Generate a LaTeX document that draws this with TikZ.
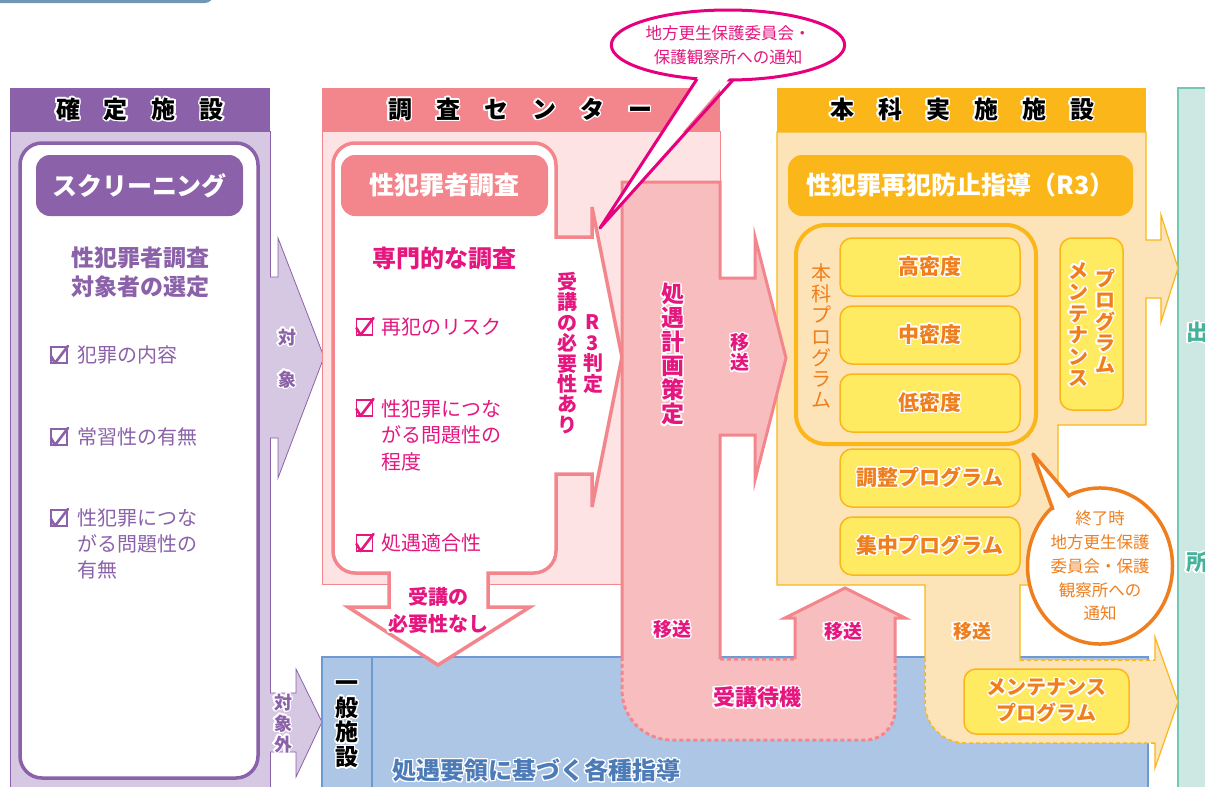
\documentclass[tikz,border=0pt]{standalone}
\usepackage{fontspec}
\setmainfont{Noto Sans CJK JP}
\usepackage[copies]{contour}
\contourlength{1.4pt}
\contournumber{20}
\usetikzlibrary{shapes.geometric}

\definecolor{tabc}{HTML}{7196B5}
\definecolor{purpD}{HTML}{8B62A9}
\definecolor{purpL}{HTML}{D6C7E3}
\definecolor{pinkD}{HTML}{F3868C}
\definecolor{pinkL}{HTML}{FDE3E3}
\definecolor{pinkM}{HTML}{F8BDBE}
\definecolor{magT}{HTML}{E5177F}
\definecolor{magL}{HTML}{E6007E}
\definecolor{goldH}{HTML}{FBB719}
\definecolor{peach}{HTML}{FDE4B8}
\definecolor{yelF}{HTML}{FFEB62}
\definecolor{orT}{HTML}{EF7F1E}
\definecolor{blueF}{HTML}{ADC6E6}
\definecolor{blueB}{HTML}{6E9AD1}
\definecolor{blueT}{HTML}{4C7BB7}
\definecolor{tealF}{HTML}{CDE8E2}
\definecolor{tealB}{HTML}{73C8B5}
\definecolor{tealT}{HTML}{45B29B}

\newcommand\ow[1]{\contour{white}{#1}}
\newcommand\idf[1]{#1}
\makeatletter
\def\vt#1#2{\vt@a#1#2\relax}
\def\vt@a#1#2{#1{#2}\vt@b#1}
\def\vt@b#1#2{\ifx#2\relax\expandafter\@gobble\else\expandafter\@firstofone\fi{\\#1{#2}\vt@b#1}}
\makeatother

\newcommand\chkbox[3]{%
  \draw[#1, line width=1.3] (#2-8,#3-8) rectangle (#2+8,#3+8);
  \draw[#1, line width=2.6, line cap=round, line join=round] (#2-8,#3+1) -- (#2-4,#3+8) -- (#2+9,#3-9);
}

\tikzset{
  every node/.style={inner sep=0pt, outer sep=0pt},
  hdr/.style={text=black, font=\fontsize{24}{26}\selectfont\bfseries},
  ybox/.style={fill=yelF, draw=goldH, line width=1.5, rounded corners=12, minimum width=180, minimum height=58, text=orT, font=\fontsize{21}{24}\selectfont\bfseries, align=center},
  chkp/.style={text=purpD, font=\fontsize{20}{26}\selectfont, anchor=west, align=left},
  chkm/.style={text=magT, font=\fontsize{20}{26.5}\selectfont, anchor=west, align=left},
  magb/.style={text=magT, font=\fontsize{20}{21}\selectfont\bfseries, align=center},
  orb/.style={text=orT, font=\fontsize{20}{21.5}\selectfont\bfseries, align=center},
  dsh/.style={dash pattern=on 4pt off 3pt},
}

\begin{document}
\begin{tikzpicture}[x=1pt,y=-1pt]
\useasboundingbox (0,0) rectangle (1205,787);
\clip (0,0) rectangle (1205,787);

% top tab
\fill[tabc, rounded corners=8] (-20,-20) rectangle (213,3);

% ---------- column 1 ----------
\filldraw[fill=purpL, draw=purpD, line width=0.8] (10,131) rectangle (270,800);
\fill[purpD] (10,88) rectangle (270,131);
\fill[purpL] (268,277) -- (278,277) -- (278,238) -- (324,357) -- (278,478) -- (278,438) -- (268,438) -- cycle;
\draw[purpD, line width=0.8] (270,277) -- (278,277) -- (278,238) -- (324,357) -- (278,478) -- (278,438) -- (270,438);
\fill[purpL] (268,693) -- (296,693) -- (296,669) -- (322,722) -- (296,777) -- (296,752) -- (268,752) -- cycle;
\draw[purpD, line width=0.8] (270,693) -- (296,693) -- (296,669) -- (322,722) -- (296,777) -- (296,752) -- (270,752);
\filldraw[fill=white, draw=purpD, line width=3.5, rounded corners=22] (20,143) rectangle (258,778);

% ---------- column 2 ----------
\filldraw[fill=pinkL, draw=pinkD, line width=0.8] (322,131) rectangle (720,584);
\fill[pinkD] (322,88) rectangle (720,131);

% ---------- general facility (blue) ----------
\filldraw[fill=blueF, draw=blueB, line width=1.2] (322,657) rectangle (1148,800);
\draw[blueB, line width=1.2] (372,657) -- (372,800);

% ---------- column 4 ----------
\filldraw[fill=tealF, draw=tealB, line width=1.5] (1178,88) rectangle (1230,800);

% ---------- column 3 ----------
\fill[peach] (777,132) -- (1146,132) -- (1146,240) -- (1161,240) -- (1161,215) -- (1178,268) -- (1161,322) -- (1161,298) -- (1146,298) -- (1146,425) -- (1058,425) -- (1058,585) -- (1020,585) -- (1020,660) -- (1155,660) -- (1155,637) -- (1178,702) -- (1155,768) -- (1155,743) -- (965,743) .. controls (943,743) and (925,725) .. (925,703) -- (925,585) -- (777,585) -- cycle;
\draw[goldH, line width=1.2] (925,660) -- (925,585) -- (777,585) -- (777,132) -- (1146,132) -- (1146,240) -- (1161,240) -- (1161,215) -- (1178,268) -- (1161,322) -- (1161,298) -- (1146,298) -- (1146,425) -- (1058,425) -- (1058,585) -- (1020,585) -- (1020,660);
\draw[goldH, line width=1.2] (1155,660) -- (1155,637) -- (1178,702) -- (1155,768) -- (1155,743);
\draw[goldH, line width=1.5, dsh] (1020,660) -- (1155,660) (1155,743) -- (965,743) .. controls (943,743) and (925,725) .. (925,703) -- (925,660);
\fill[goldH] (777,88) rectangle (1146,132);

% ---------- survey panel ----------
\filldraw[fill=white, draw=pinkD, line width=3.5] (333,551) -- (333,165) .. controls (333,153) and (343,143) .. (355,143) -- (534,143) .. controls (546,143) and (556,153) .. (556,165) -- (556,237) -- (592,237) -- (592,207) -- (622,357) -- (592,507) -- (592,474) -- (556,474) -- (556,551) .. controls (556,563) and (546,573) .. (534,573) -- (488,573) -- (488,607) -- (530,607) -- (438,665) -- (348,607) -- (389,607) -- (389,573) -- (355,573) .. controls (343,573) and (333,563) .. (333,551) -- cycle;

% ---------- central block ----------
\fill[pinkM] (622,182) -- (720,182) -- (720,278) -- (755,278) -- (755,237) -- (786,358) -- (755,480) -- (755,435) -- (720,435) -- (720,659) -- (795,659) -- (795,618) -- (785,618) -- (845,588) -- (905,618) -- (895,618) -- (895,710) .. controls (895,727) and (882,740) .. (865,740) -- (672,740) .. controls (644,740) and (622,718) .. (622,690) -- cycle;
\draw[pinkD, line width=3] (622,659) -- (622,182) -- (720,182) -- (720,278) -- (755,278) -- (755,237) -- (786,358) -- (755,480) -- (755,435) -- (720,435) -- (720,659);
\draw[pinkD, line width=3] (795,659) -- (795,618) -- (785,618) -- (845,588) -- (905,618) -- (895,618) -- (895,659);
\draw[pinkD, line width=3, dsh] (720,659) -- (795,659) (895,659) -- (895,710) .. controls (895,727) and (882,740) .. (865,740) -- (672,740) .. controls (644,740) and (622,718) .. (622,690) -- (622,659);

% ---------- top callout ----------
\node[ellipse, draw=magL, line width=3, fill=white, minimum width=230, minimum height=70, text=magT, font=\fontsize{16.5}{24}\selectfont, align=center] (note1) at (728,45) {地方更生保護委員会・\\保護観察所への通知};
\fill[white] (700,74) -- (600,228) -- (732,75) -- cycle;
\draw[magL, line width=3, line join=round] (697,79) -- (600,228) -- (733,80);

% ---------- column 3 inner ----------
\node[fill=goldH, rounded corners=14, minimum width=345, minimum height=61, text=white, font=\fontsize{25}{27}\selectfont\bfseries] (r3) at (960.5,185.5) {性犯罪再犯防止指導（R3）};
\draw[goldH, line width=4, rounded corners=30] (796,225) rectangle (1036,444);
\node[text=orT, font=\fontsize{20}{21.3}\selectfont, align=center] (honka) at (821,336) {\vt\idf{本科プログラム}};
\node[ybox] (hi) at (930,267) {\ow{高密度}};
\node[ybox] (mid) at (930,335) {\ow{中密度}};
\node[ybox] (lo) at (930,403) {\ow{低密度}};
\node[ybox] (adj) at (930,478) {\ow{調整プログラム}};
\node[ybox] (conc) at (930,546) {\ow{集中プログラム}};
\node[ybox, minimum width=63, minimum height=172] (maint) at (1091.5,324) {};
\node[orb] (maintA) at (1105,322) {\vt\ow{プログラム}};
\node[orb] (maintB) at (1078,325) {\vt\ow{メンテナンス}};
\node[ybox, minimum width=165, minimum height=65, font=\fontsize{20}{26}\selectfont\bfseries] (maint2) at (1046.5,701.5) {\ow{メンテナンス}\\\ow{プログラム}};
\node[text=orT, font=\fontsize{19}{21}\selectfont\bfseries] (mv3) at (972,632) {\ow{移送}};

% circle callout
\node[ellipse, draw=orT, line width=3.5, fill=white, minimum width=145, minimum height=154, text=orT, font=\fontsize{16.5}{23.8}\selectfont, align=center] (note2) at (1100,566) {終了時\\地方更生保護\\委員会・保護\\観察所への\\通知};
\fill[white] (1057,515) -- (1033,454) -- (1072,503) -- cycle;
\draw[orT, line width=3.5, line join=round] (1053,510) -- (1033,454) -- (1070,497);

% ---------- headers ----------
\node[hdr] (h1) at (140,110) {\ow{確　定　施　設}};
\node[hdr] (h2) at (520,110) {\ow{調　査　セ　ン　タ　ー}};
\node[hdr] (h3) at (962,110) {\ow{本　科　実　施　施　設}};

% ---------- column 1 texts ----------
\node[fill=purpD, rounded corners=14, minimum width=207, minimum height=61, text=white, font=\fontsize{25}{27}\selectfont\bfseries] (scr) at (139.5,185.5) {スクリーニング};
\node[text=purpD, font=\fontsize{23}{29}\selectfont\bfseries, align=center] (sel) at (140,272.5) {性犯罪者調査\\対象者の選定};
\chkbox{purpD}{59}{355}
\node[chkp] (p1) at (77,355) {犯罪の内容};
\chkbox{purpD}{59}{437}
\node[chkp] (p2) at (77,437) {常習性の有無};
\chkbox{purpD}{59}{518}
\node[chkp] (p3) at (77,544) {性犯罪につな\\がる問題性の\\有無};
\node[text=purpD, font=\fontsize{18}{42}\selectfont\bfseries, align=center] (tg) at (287,359) {\vt\ow{対象}};
\node[text=purpD, font=\fontsize{18}{21}\selectfont\bfseries, align=center] (ntg) at (283,724) {\vt\ow{対象外}};

% ---------- column 2 texts ----------
\node[fill=pinkD, rounded corners=14, minimum width=207, minimum height=61, text=white, font=\fontsize{25}{27}\selectfont\bfseries] (svy) at (444.5,185.5) {性犯罪者調査};
\node[text=magT, font=\fontsize{24}{26}\selectfont\bfseries] (spec) at (444.5,258) {専門的な調査};
\chkbox{magT}{364.5}{327}
\node[chkm] (m1) at (381,327) {再犯のリスク};
\chkbox{magT}{364.5}{408}
\node[chkm] (m2) at (381,435) {性犯罪につな\\がる問題性の\\程度};
\chkbox{magT}{364.5}{543}
\node[chkm] (m3) at (381,543) {処遇適合性};
\node[magb, font=\fontsize{20}{20.4}\selectfont\bfseries] (need) at (567,353) {\vt\idf{受講の必要性あり}};
\node[magb, font=\fontsize{20}{20.7}\selectfont\bfseries] (r3j) at (593,354) {\vt\idf{R3判定}};
\node[magb, font=\fontsize{20}{27}\selectfont\bfseries] (noneed) at (438,611) {\ow{受講の}\\\ow{必要性なし}};

% ---------- central block texts ----------
\node[magb, font=\fontsize{23}{24}\selectfont\bfseries] (plan) at (673,355) {\vt\ow{処遇計画策定}};
\node[magb, font=\fontsize{19}{20}\selectfont\bfseries] (mv1) at (740,353) {\vt\ow{移送}};
\node[magb, font=\fontsize{19}{21}\selectfont\bfseries] (mv2) at (672,630) {\ow{移送}};
\node[magb, font=\fontsize{19}{21}\selectfont\bfseries] (mv4) at (843,632) {\ow{移送}};
\node[magb, font=\fontsize{22}{24}\selectfont\bfseries] (wait) at (757,698) {\ow{受講待機}};

% ---------- general facility texts ----------
\node[text=black, font=\fontsize{23}{24.7}\selectfont\bfseries, align=center] (gen) at (347,725) {\vt\ow{一般施設}};
\node[text=blueT, font=\fontsize{24}{26}\selectfont\bfseries] (gent) at (536.5,771) {\ow{処遇要領に基づく各種指導}};

% ---------- column 4 texts ----------
\node[text=tealT, font=\fontsize{22}{24}\selectfont\bfseries] (out1) at (1197,333) {\ow{出}};
\node[text=tealT, font=\fontsize{22}{24}\selectfont\bfseries] (out2) at (1197,563) {\ow{所}};
\end{tikzpicture}
\end{document}
